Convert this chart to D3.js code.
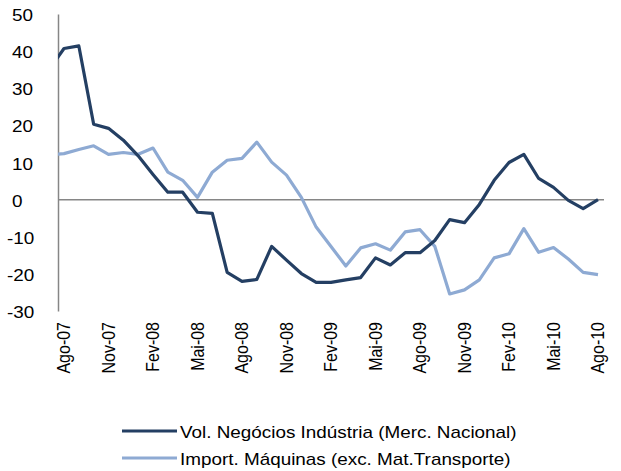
<!DOCTYPE html>
<html>
<head>
<meta charset="utf-8">
<script src="https://cdn.jsdelivr.net/npm/d3@7"></script>
<style>
  body { margin: 0; background: #fff; }
  text { font-family: "Liberation Sans", Arial, sans-serif; }
</style>
</head>
<body>
<div id="chart"></div>
<script>
// months, first one (Jul-07) sits left of the axis and gets clipped
var months = ["Jul-07","Ago-07","Set-07","Out-07","Nov-07","Dez-07","Jan-08","Fev-08","Mar-08","Abr-08","Mai-08","Jun-08","Jul-08",
  "Ago-08","Set-08","Out-08","Nov-08","Dez-08","Jan-09","Fev-09","Mar-09","Abr-09","Mai-09","Jun-09","Jul-09",
  "Ago-09","Set-09","Out-09","Nov-09","Dez-09","Jan-10","Fev-10","Mar-10","Abr-10","Mai-10","Jun-10","Jul-10","Ago-10"];

var volNegocios = [35, 40.7, 41.4, 20.3, 19.2, 16.0, 11.8, 6.8, 2.0, 2.0, -3.4, -3.7, -19.6,
  -22.0, -21.5, -12.6, -16.3, -19.9, -22.3, -22.3, -21.6, -21.0, -15.7, -17.6, -14.3,
  -14.3, -11.0, -5.4, -6.2, -1.3, 5.2, 10.0, 12.2, 5.7, 3.3, -0.2, -2.4, 0.0];

var importMaquinas = [12.0, 12.4, 13.5, 14.5, 12.2, 12.7, 12.2, 13.9, 7.4, 5.2, 0.6, 7.4, 10.6,
  11.1, 15.5, 10.1, 6.6, 0.6, -7.4, -12.6, -17.9, -13.0, -11.9, -13.6, -8.7,
  -8.1, -12.6, -25.4, -24.3, -21.6, -15.7, -14.6, -7.8, -14.2, -12.9, -16.0, -19.6, -20.2];

var tickLabels = ["Ago-07","Nov-07","Fev-08","Mai-08","Ago-08","Nov-08","Fev-09","Mai-09","Ago-09","Nov-09","Fev-10","Mai-10","Ago-10"];
var yTicks = [-30, -20, -10, 0, 10, 20, 30, 40, 50];

var seriesNames = ["Vol. Negócios Indústria (Merc. Nacional)", "Import. Máquinas (exc. Mat.Transporte)"];
var seriesColors = ["#243f63", "#8eaad3"];

var width = 621, height = 471;
var stretch = 1.18; // source picture is a bit wider than tall
var svg = d3.select("#chart").append("svg")
  .attr("width", width)
  .attr("height", height);

// index 1 = Ago-07, index 37 = Ago-10
var x = d3.scaleLinear().domain([1, 37]).range([64, 598]);
var y = d3.scaleLinear().domain([-30, 50]).range([311, 14]);
var axisLeft = 58, axisRight = 604;

svg.append("defs").append("clipPath")
  .attr("id", "plot")
  .append("rect")
  .attr("x", axisLeft).attr("y", 0)
  .attr("width", axisRight - axisLeft).attr("height", 330);

// y axis
var yAxis = svg.append("g")
  .attr("transform", "translate(" + axisLeft + ",0)")
  .call(d3.axisLeft(y).tickValues(yTicks).tickSize(0).tickFormat(d3.format("d")));
yAxis.select(".domain").attr("stroke", "#868686").attr("stroke-width", 1.5);
yAxis.selectAll(".tick text").remove();

svg.selectAll(".ylab")
  .data(yTicks)
  .enter()
  .append("text")
  .attr("class", "ylab")
  .attr("transform", function(d) { return "translate(" + (d < 0 ? 7 : 12) + "," + (y(d) + 1.5) + ") scale(" + stretch + ",1)"; })
  .attr("dy", "0.35em")
  .attr("font-size", 16)
  .text(function(d) { return d; });

// zero line
svg.append("line")
  .attr("x1", axisLeft).attr("x2", axisRight)
  .attr("y1", y(0)).attr("y2", y(0))
  .attr("stroke", "#868686").attr("stroke-width", 1.5);

// category labels
svg.selectAll(".xlab")
  .data(tickLabels)
  .enter()
  .append("text")
  .attr("class", "xlab")
  .attr("transform", function(d) { return "translate(" + (x(months.indexOf(d)) + 6) + ",322) scale(" + stretch + ",1) rotate(-90)"; })
  .attr("text-anchor", "end")
  .attr("font-size", 16)
  .text(function(d) { return d; });

var line = d3.line()
  .x(function(d, i) { return x(i); })
  .y(function(d) { return y(d); });

var plot = svg.append("g").attr("clip-path", "url(#plot)");
[importMaquinas, volNegocios].forEach(function(s, k) {
  plot.append("path")
    .datum(s)
    .attr("fill", "none")
    .attr("stroke", seriesColors[1 - k])
    .attr("stroke-width", 3.2)
    .attr("stroke-linejoin", "round")
    .attr("d", line);
});

// legend
var legend = svg.selectAll(".leg")
  .data(seriesNames)
  .enter()
  .append("g")
  .attr("transform", function(d, i) { return "translate(122," + (431 + i * 27) + ")"; });
legend.append("line")
  .attr("x1", 0).attr("x2", 55)
  .attr("stroke", function(d, i) { return seriesColors[i]; })
  .attr("stroke-width", 3.2);
legend.append("text")
  .attr("transform", "translate(58,1) scale(" + stretch + ",1)")
  .attr("dy", "0.35em")
  .attr("font-size", 16)
  .text(function(d) { return d; });
</script>
</body>
</html>
